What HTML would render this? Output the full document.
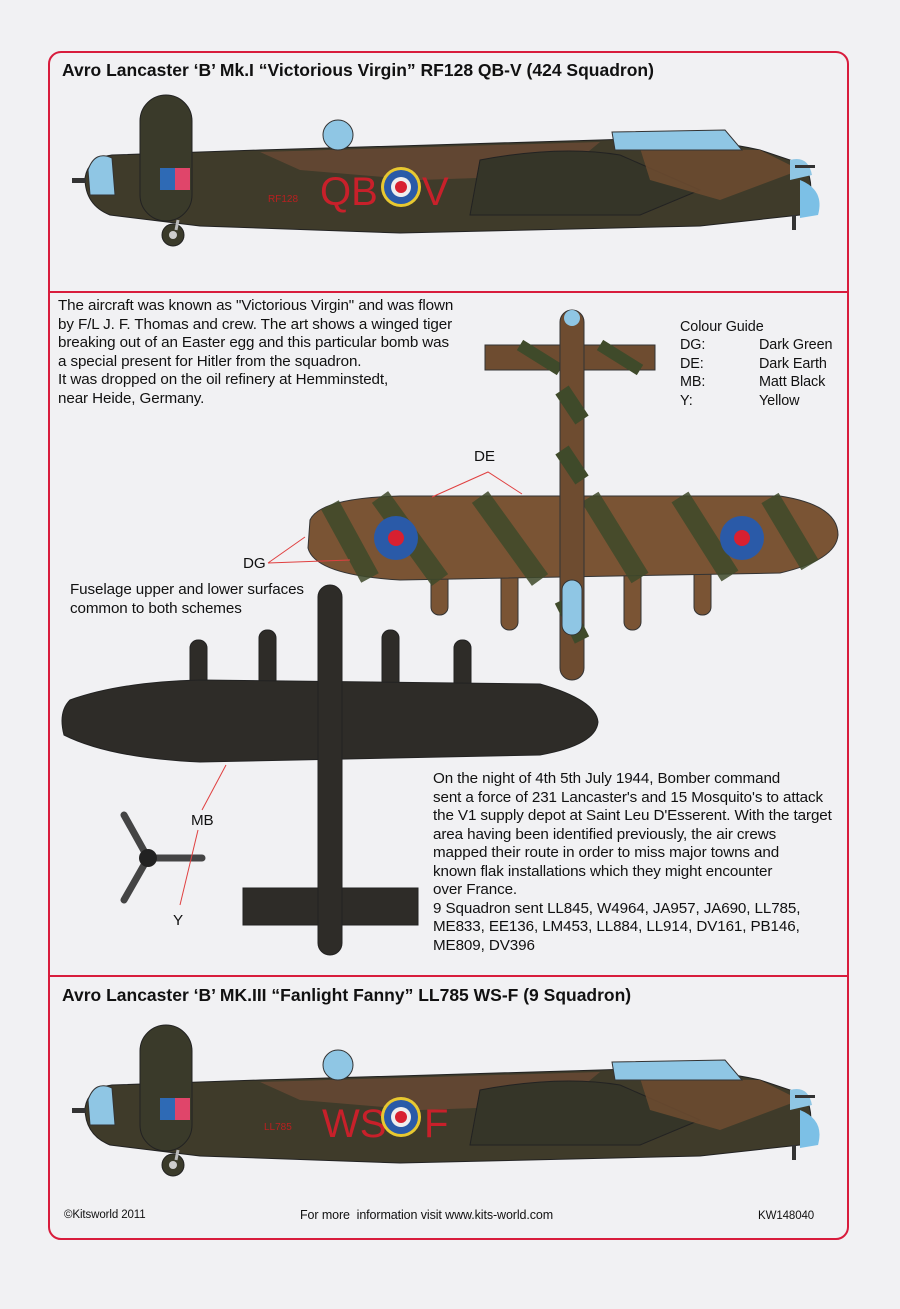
<!DOCTYPE html>
<html><head><meta charset="utf-8"><style>
body{margin:0;background:#f1f1f3;width:900px;height:1309px;position:relative;overflow:hidden;font-family:"Liberation Sans",sans-serif;color:#111}
.t{position:absolute;font-size:15.2px;line-height:18.5px;white-space:nowrap;letter-spacing:-0.1px}
.h{position:absolute;font-weight:bold;font-size:17.5px}
</style></head><body>
<svg width="900" height="1309" style="position:absolute;left:0;top:0">
<defs>
<g id="side">
<path d="M85,178 Q88,158 112,155 L260,150 L600,140 Q700,136 760,150 L805,165 Q815,185 808,205 L800,215 L700,226 L400,233 L200,226 L110,215 Q85,205 85,178Z" fill="#3f3b2a" stroke="#222"/>
<path d="M260,152 L600,142 L560,175 L420,180 L300,170Z" fill="#6a4a34" opacity=".8"/>
<path d="M480,160 Q560,145 620,155 L700,190 L640,215 L470,215Z" fill="#353528" stroke="#222"/>
<path d="M640,148 L760,150 L800,170 L720,200 L650,180Z" fill="#6e4c30" opacity=".85"/>
<path d="M612,132 L725,130 L742,150 L615,150Z" fill="#8fc6e4" stroke="#333"/>
<circle cx="338" cy="135" r="15" fill="#8fc6e4" stroke="#333"/>
<path d="M88,170 Q95,150 112,158 L115,195 L90,195Z" fill="#8fc6e4" stroke="#333"/>
<path d="M790,160 Q808,155 812,175 L790,180Z" fill="#8fc6e4"/>
<path d="M800,180 Q825,190 818,215 L800,218Z" fill="#7cc0e6"/>
<rect x="72" y="178" width="14" height="5" fill="#333"/>
<rect x="795" y="165" width="20" height="3" fill="#333"/>
<rect x="140" y="95" width="52" height="126" rx="26" fill="#3a3a2a" stroke="#222"/>
<rect x="160" y="168" width="30" height="22" fill="#2e6ab5"/><rect x="175" y="168" width="15" height="22" fill="#e0456a"/>
<circle cx="173" cy="235" r="11" fill="#3a3a2a" stroke="#222"/><circle cx="173" cy="235" r="4" fill="#ccc"/>
<line x1="178" y1="220" x2="176" y2="230" stroke="#bbb" stroke-width="3"/>
<rect x="792" y="215" width="4" height="15" fill="#333"/>
</g>
</defs>
<rect x="49" y="52" width="799" height="1187" rx="12" fill="none" stroke="#d81c3c" stroke-width="2"/>
<line x1="49" y1="292" x2="848" y2="292" stroke="#d81c3c" stroke-width="2"/>
<line x1="49" y1="976" x2="848" y2="976" stroke="#d81c3c" stroke-width="2"/>
<use href="#side"/>
<text x="320" y="205" font-size="40" fill="#c8202a" font-family="Liberation Sans">QB</text>
<circle cx="401" cy="187" r="20" fill="#e8c830"/><circle cx="401" cy="187" r="17" fill="#2a5aa8"/><circle cx="401" cy="187" r="10" fill="#eee"/><circle cx="401" cy="187" r="6" fill="#d82030"/>
<text x="422" y="205" font-size="40" fill="#c8202a">V</text>
<text x="268" y="202" font-size="10" fill="#b82020">RF128</text>
<use href="#side" transform="translate(0,930)"/>
<text x="322" y="1137" font-size="40" fill="#c8202a">WS</text>
<circle cx="401" cy="1117" r="20" fill="#e8c830"/><circle cx="401" cy="1117" r="17" fill="#2a5aa8"/><circle cx="401" cy="1117" r="10" fill="#eee"/><circle cx="401" cy="1117" r="6" fill="#d82030"/>
<text x="424" y="1137" font-size="40" fill="#c8202a">F</text>
<text x="264" y="1130" font-size="10" fill="#b82020">LL785</text>
<!-- top view -->
<path d="M485,345 L655,345 L655,370 L485,370Z" fill="#6e4c30" stroke="#333"/>
<path d="M520,345 L560,370 M600,345 L640,370" stroke="#3f4a2a" stroke-width="12"/>
<g fill="#7a5434" stroke="#333">
<rect x="431" y="560" width="17" height="55" rx="8"/><rect x="501" y="560" width="17" height="70" rx="8"/>
<rect x="624" y="560" width="17" height="70" rx="8"/><rect x="694" y="560" width="17" height="55" rx="8"/></g>
<path d="M310,520 Q320,498 400,496 L780,496 Q838,505 838,535 Q836,560 780,573 L400,580 Q315,575 308,548Z" fill="#7a5434" stroke="#333"/>
<path d="M380,497 L440,580 M480,497 L540,580 M590,497 L640,578 M680,497 L730,576 M770,498 L810,565 M330,505 L370,578" stroke="#3f4a2a" stroke-width="20" opacity=".85"/>
<rect x="560" y="310" width="24" height="370" rx="12" fill="#6e4c30" stroke="#333"/>
<path d="M562,390 L582,420 M562,450 L582,480 M562,600 L582,640" stroke="#3f4a2a" stroke-width="16"/>
<rect x="562" y="580" width="20" height="55" rx="10" fill="#8fc6e4" stroke="#333"/>
<circle cx="572" cy="318" r="8" fill="#8fc6e4"/>
<circle cx="396" cy="538" r="22" fill="#2a5aa8"/><circle cx="396" cy="538" r="8" fill="#d82030"/>
<circle cx="742" cy="538" r="22" fill="#2a5aa8"/><circle cx="742" cy="538" r="8" fill="#d82030"/>
<!-- bottom view -->
<g fill="#2e2c28" stroke="#222">
<rect x="190" y="640" width="17" height="70" rx="8"/><rect x="259" y="630" width="17" height="80" rx="8"/>
<rect x="382" y="630" width="17" height="80" rx="8"/><rect x="454" y="640" width="17" height="70" rx="8"/>
<path d="M70,700 Q120,682 200,680 L540,684 Q596,700 598,722 Q596,745 540,755 L200,762 Q110,758 64,735 Q58,712 70,700Z"/>
<path d="M243,888 L418,888 L418,925 L243,925Z"/>
<rect x="318" y="585" width="24" height="370" rx="12"/></g>
<!-- prop -->
<g stroke="#444" stroke-width="7" stroke-linecap="round"><line x1="148" y1="858" x2="124" y2="815"/><line x1="148" y1="858" x2="124" y2="900"/><line x1="148" y1="858" x2="202" y2="858"/></g>
<circle cx="148" cy="858" r="9" fill="#222"/>
<!-- leader lines -->
<g stroke="#e04040" fill="none"><path d="M432,497 L488,472 L522,494"/><path d="M268,563 L305,537 M268,563 L350,560"/><path d="M226,765 L202,810"/><path d="M198,830 L180,905"/></g>
</svg>
<div class="h" style="left:62px;top:60px">Avro Lancaster ‘B’ Mk.I “Victorious Virgin” RF128 QB-V (424 Squadron)</div>
<div class="t" style="left:58px;top:297px">The aircraft was known as "Victorious Virgin" and was flown<br>by F/L J. F. Thomas and crew. The art shows a winged tiger<br>breaking out of an Easter egg and this particular bomb was<br>a special present for Hitler from the squadron.<br>It was dropped on the oil refinery at Hemminstedt,<br>near Heide, Germany.</div>
<div class="t" style="left:680px;top:318px;font-size:14.4px">Colour Guide</div>
<div class="t" style="left:680px;top:336px;font-size:14.4px">DG:<br>DE:<br>MB:<br>Y:</div>
<div class="t" style="left:759px;top:336px;font-size:14.4px">Dark Green<br>Dark Earth<br>Matt Black<br>Yellow</div>
<div class="t" style="left:474px;top:448px">DE</div>
<div class="t" style="left:243px;top:555px">DG</div>
<div class="t" style="left:70px;top:581px">Fuselage upper and lower surfaces<br>common to both schemes</div>
<div class="t" style="left:191px;top:812px">MB</div>
<div class="t" style="left:173px;top:912px">Y</div>
<div class="t" style="left:433px;top:770px">On the night of 4th 5th July 1944, Bomber command<br>sent a force of 231 Lancaster's and 15 Mosquito's to attack<br>the V1 supply depot at Saint Leu D'Esserent. With the target<br>area having been identified previously, the air crews<br>mapped their route in order to miss major towns and<br>known flak installations which they might encounter<br>over France.<br>9 Squadron sent LL845, W4964, JA957, JA690, LL785,<br>ME833, EE136, LM453, LL884, LL914, DV161, PB146,<br>ME809, DV396</div>
<div class="h" style="left:62px;top:985px">Avro Lancaster ‘B’ MK.III “Fanlight Fanny” LL785 WS-F (9 Squadron)</div>
<div class="t" style="left:64px;top:1206px;font-size:11.5px">©Kitsworld 2011</div>
<div class="t" style="left:300px;top:1206px;font-size:12.5px">For more&nbsp; information visit www.kits-world.com</div>
<div class="t" style="left:758px;top:1207px;font-size:11.5px">KW148040</div>
</body></html>
